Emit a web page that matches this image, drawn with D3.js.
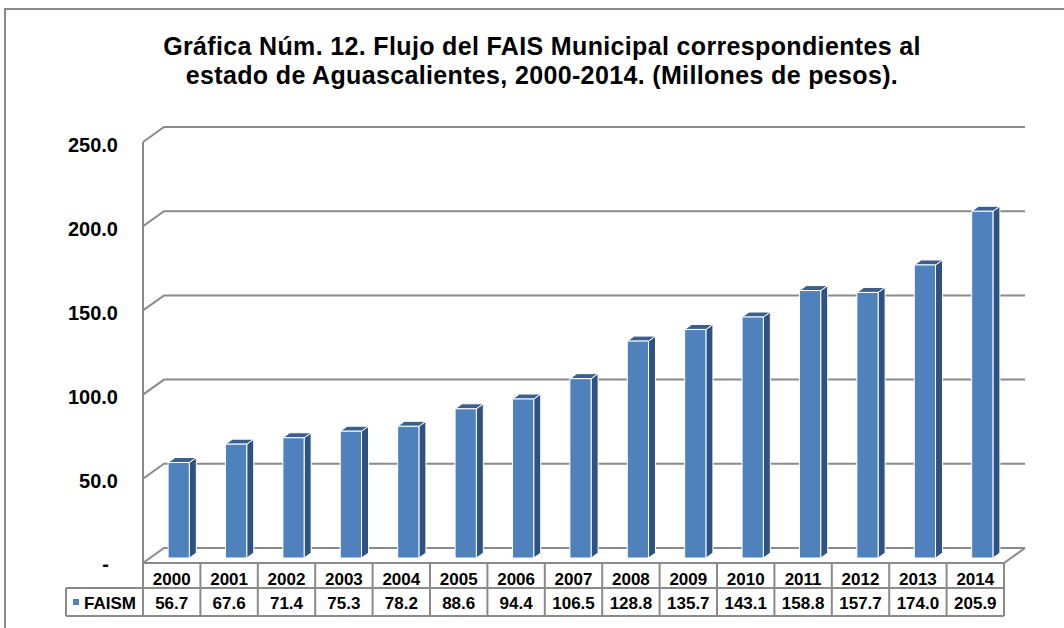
<!DOCTYPE html>
<html>
<head>
<meta charset="utf-8">
<script src="https://cdn.jsdelivr.net/npm/d3@7"></script>
<style>
  html, body { margin: 0; padding: 0; background: #fff; }
  svg { display: block; font-family: "Liberation Sans", Arimo, Helvetica, sans-serif; }
</style>
</head>
<body>
<svg id="chart" width="1064" height="628"></svg>
<script>
// FAIS Municipal flow, Aguascalientes (millions of pesos)
const years = ["2000","2001","2002","2003","2004","2005","2006","2007","2008","2009","2010","2011","2012","2013","2014"];
const faism = [56.7, 67.6, 71.4, 75.3, 78.2, 88.6, 94.4, 106.5, 128.8, 135.7, 143.1, 158.8, 157.7, 174.0, 205.9];
const yTicks = [0, 50, 100, 150, 200, 250];
const seriesName = "FAISM";
const titleLines = [
  "Gráfica Núm. 12. Flujo del FAIS Municipal correspondientes al",
  "estado de Aguascalientes, 2000-2014. (Millones de pesos)."
];

const svg = d3.select("#chart");
const grid = "#8a8a8a";

// plot geometry (front plane) and 3D depth offset
const x0 = 143, x1 = 1004, yBase = 563, yTop = 142;
const depthX = 21, depthY = -15;

const x = d3.scaleBand().domain(years).range([x0, x1]).padding(0);
const y = d3.scaleLinear().domain([0, 250]).range([yBase, yTop]);
const fmt = d3.format(".1f");

// project a (px, value, depth 0..1) to screen
const P = (px, v, d) => [px + d * depthX, y(v) + d * depthY];

// outer frame
svg.append("rect")
  .attr("x", 5).attr("y", 9).attr("width", 1100).attr("height", 700)
  .attr("fill", "none").attr("stroke", grid).attr("stroke-width", 2);

// title
svg.append("g").selectAll("text").data(titleLines).join("text")
  .attr("x", 542).attr("y", (d, i) => 55 + i * 28.5)
  .attr("text-anchor", "middle")
  .attr("font-size", 25).attr("font-weight", "bold").attr("fill", "#000")
  .attr("letter-spacing", 0.35)
  .text(d => d);

// back-wall gridlines and side-wall diagonals
const g = svg.append("g").attr("fill", "none").attr("stroke", grid).attr("stroke-width", 2);
yTicks.forEach(v => {
  const a = P(x0, v, 0), b = P(x0, v, 1), c = P(x1, v, 1);
  g.append("path").attr("d", d3.line()([a, b, c]));
});
// left wall front edge
g.append("line").attr("x1", x0).attr("x2", x0).attr("y1", y(250)).attr("y2", y(0));
// floor front edge and right diagonal
{
  const a = P(x0, 0, 0), b = P(x1, 0, 0), c = P(x1, 0, 1);
  g.append("path").attr("d", d3.line()([a, b, c]));
}

// y-axis labels (zero shown as an accounting dash)
svg.append("g").selectAll("text").data(yTicks).join("text")
  .attr("x", v => v === 0 ? 109 : 118)
  .attr("y", v => y(v) + (v === 0 ? 8 : 9.5))
  .attr("text-anchor", "end")
  .attr("font-size", 20).attr("font-weight", "bold").attr("fill", "#000")
  .text(v => v === 0 ? "-" : fmt(v));

// 3D bars
const barFrac = 0.37;
const dFront = 1 / 3, dBack = 2 / 3;
const bars = svg.append("g").selectAll("g").data(years.map((c, i) => ({ c, v: faism[i] }))).join("g");
bars.each(function (d) {
  const bw = x.bandwidth() * barFrac;
  const xl = x(d.c) + (x.bandwidth() - bw) / 2, xr = xl + bw;
  const sel = d3.select(this);
  const line = d3.line();
  const front = [P(xl, 0, dFront), P(xr, 0, dFront), P(xr, d.v, dFront), P(xl, d.v, dFront)];
  const side = [P(xr, 0, dFront), P(xr, 0, dBack), P(xr, d.v, dBack), P(xr, d.v, dFront)];
  const top = [P(xl, d.v, dFront), P(xr, d.v, dFront), P(xr, d.v, dBack), P(xl, d.v, dBack)];
  sel.append("path").attr("d", line(side) + "Z").attr("fill", "#2f5381").attr("stroke", "#fff").attr("stroke-width", 1);
  sel.append("path").attr("d", line(top) + "Z").attr("fill", "#3a5f8e").attr("stroke", "#fff").attr("stroke-width", 1);
  sel.append("path").attr("d", line(front) + "Z").attr("fill", "#4f81bd").attr("stroke", "#fff").attr("stroke-width", 1);
});

// data table
const rowTop = yBase, rowMid = 588, rowBot = 616, legL = 66;
const t = svg.append("g");
const tl = t.append("g").attr("stroke", grid).attr("stroke-width", 2).attr("fill", "none");
tl.append("line").attr("x1", legL).attr("x2", x1).attr("y1", rowMid).attr("y2", rowMid);
tl.append("line").attr("x1", legL).attr("x2", x1).attr("y1", rowBot).attr("y2", rowBot);
tl.append("line").attr("x1", legL).attr("x2", legL).attr("y1", rowMid).attr("y2", rowBot);
tl.selectAll("line.col").data(years.concat(["end"])).join("line").attr("class", "col")
  .attr("x1", d => d === "end" ? x1 : x(d)).attr("x2", d => d === "end" ? x1 : x(d))
  .attr("y1", rowTop).attr("y2", rowBot);

t.selectAll("text.yr").data(years).join("text").attr("class", "yr")
  .attr("x", d => x(d) + x.bandwidth() / 2).attr("y", 585)
  .attr("text-anchor", "middle").attr("font-size", 17).attr("font-weight", "bold")
  .text(d => d);
t.selectAll("text.val").data(faism).join("text").attr("class", "val")
  .attr("x", (d, i) => x(years[i]) + x.bandwidth() / 2).attr("y", 609)
  .attr("text-anchor", "middle").attr("font-size", 17).attr("font-weight", "bold")
  .text(d => fmt(d));

// legend key in the table
t.append("rect").attr("x", 73).attr("y", 599).attr("width", 6).attr("height", 6).attr("fill", "#4f81bd");
t.append("text").attr("x", 84).attr("y", 609).attr("font-size", 17).attr("font-weight", "bold").text(seriesName);
</script>
</body>
</html>
